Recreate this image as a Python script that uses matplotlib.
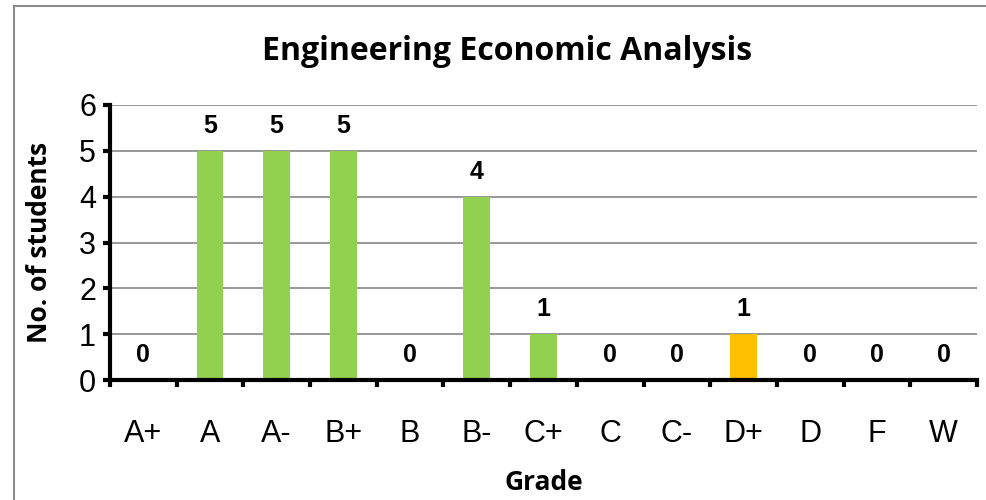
import matplotlib
matplotlib.use("Agg")
import matplotlib.pyplot as plt
from matplotlib.lines import Line2D
import numpy as np

grades = ["A+", "A", "A-", "B+", "B", "B-", "C+", "C", "C-", "D+", "D", "F", "W"]
counts = [0, 5, 5, 5, 0, 4, 1, 0, 0, 1, 0, 0, 0]
colors = ["#92D050"] * 9 + ["#FFC000"] + ["#92D050"] * 3
title = "Engineering Economic Analysis"
xlabel = "Grade"
ylabel = "No. of students"
yticks = [0, 1, 2, 3, 4, 5, 6]

fig = plt.figure(figsize=(9.86, 5.0), dpi=100)
# outer chart border
fig.add_artist(Line2D([14/986, 14/986], [0, 1 - 6/500], transform=fig.transFigure, color="#8c8c8c", lw=1.5))
fig.add_artist(Line2D([14/986, 1], [1 - 6/500, 1 - 6/500], transform=fig.transFigure, color="#8c8c8c", lw=1.5))

ax = fig.add_axes([110/986, 1 - 380/500, (977 - 110)/986, (380 - 105)/500])
x = np.arange(len(grades))
ax.bar(x, counts, width=0.4, color=colors, zorder=3)
for xi, v in zip(x, counts):
    ax.annotate(str(v), (xi, v), xytext=(0, 18), textcoords="offset points",
                ha="center", va="center", fontsize=18, fontweight="bold",
                family="Liberation Sans")

ax.set_xlim(-0.5, len(grades) - 0.5)
ax.set_ylim(0, 6)
ax.set_yticks(yticks)
ax.set_yticklabels([str(t) for t in yticks], family="Liberation Sans", fontsize=22)
ax.set_xticks(x)
ax.set_xticklabels(grades, family="Liberation Sans", fontsize=22)
ax.set_xticks(np.arange(-0.5, len(grades)), minor=True)
ax.tick_params(axis="x", which="major", length=0, pad=28)
ax.tick_params(axis="x", which="minor", length=5, width=3, direction="out", color="black")
ax.tick_params(axis="y", which="major", length=5, width=3, direction="out", pad=5, color="black")

ax.yaxis.grid(True, color="#868686", lw=1.2, zorder=0)
ax.set_axisbelow(True)
for s in ["top", "right"]:
    ax.spines[s].set_visible(False)
for s in ["left", "bottom"]:
    ax.spines[s].set_linewidth(3)
    ax.spines[s].set_color("black")
    ax.spines[s].set_zorder(5)

fig.text((265 + 750) / 2 / 986, 1 - 52/500, title, ha="center", va="center",
         fontsize=23, fontweight="bold", family="Open Sans")
fig.text(0.5 * (110 + 977) / 986, 1 - 483/500, xlabel, ha="center", va="center",
         fontsize=19, fontweight="bold", family="Open Sans")
fig.text(40/986, 1 - 242/500, ylabel, ha="center", va="center", rotation=90,
         fontsize=19, fontweight="bold", family="Open Sans")

fig.savefig("out.png", dpi=100)
